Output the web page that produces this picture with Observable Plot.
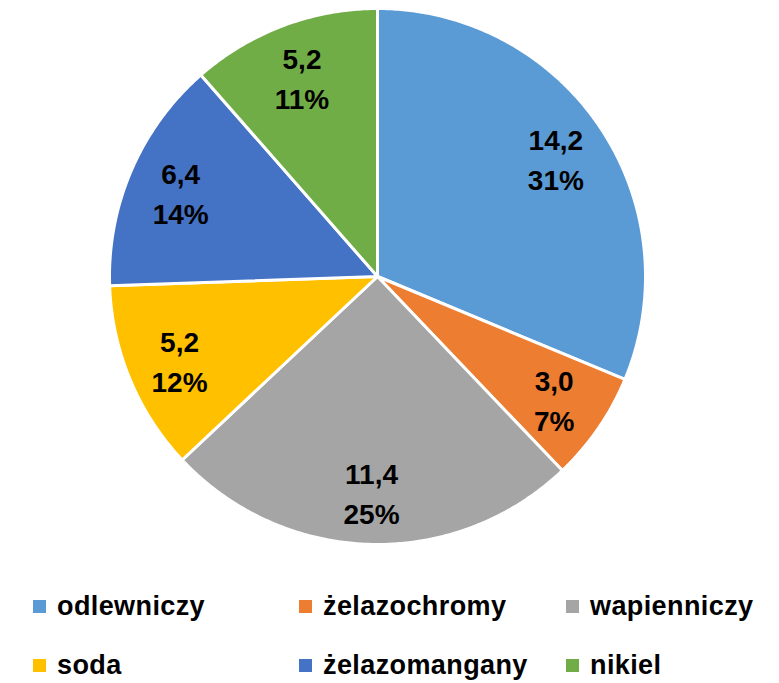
<!DOCTYPE html>
<html>
<head>
<meta charset="utf-8">
<script src="https://cdn.jsdelivr.net/npm/d3@7"></script>
<script src="https://cdn.jsdelivr.net/npm/@observablehq/plot@0.6"></script>
<style>
  html, body { margin: 0; padding: 0; background: #fff; }
  #wrap { position: relative; width: 779px; height: 683px; overflow: hidden; font-family: "Liberation Sans", Arial, sans-serif; }
  #chart { position: absolute; left: 0; top: 0; }
  .leg { position: absolute; display: flex; align-items: center; font-weight: bold; font-size: 27px; letter-spacing: 0.4px; color: #000; white-space: nowrap; line-height: 1; }
  .leg .sw { width: 13px; height: 13px; margin-right: 11px; flex: none; }
</style>
</head>
<body>
<div id="wrap">
  <div id="chart"></div>
</div>
<script>
const categories = ["odlewniczy", "żelazochromy", "wapienniczy", "soda", "żelazomangany", "nikiel"];
const values = [14.2, 3.0, 11.4, 5.2, 6.4, 5.2];
const percentLabels = ["31%", "7%", "25%", "12%", "14%", "11%"];
const colors = ["#5B9BD5", "#ED7D31", "#A5A5A5", "#FFC000", "#4472C4", "#70AD47"];

const arcs = d3.pie().sort(null).value(d => d.value)(
  categories.map((c, i) => ({category: c, value: values[i], pct: percentLabels[i]}))
);

// slice outlines (in unit-radius coordinates)
const polys = [];
for (const a of arcs) {
  const cat = a.data.category;
  polys.push({category: cat, x: 0, y: 0});
  const n = Math.max(2, Math.ceil((a.endAngle - a.startAngle) / (Math.PI / 360)));
  for (let k = 0; k <= n; k++) {
    const t = a.startAngle + (a.endAngle - a.startAngle) * k / n;
    polys.push({category: cat, x: Math.sin(t), y: Math.cos(t)});
  }
  polys.push({category: cat, x: 0, y: 0});
}

const labelR = 0.8;
const labels = arcs.map(a => {
  const m = (a.startAngle + a.endAngle) / 2;
  return {
    x: labelR * Math.sin(m),
    y: labelR * Math.cos(m),
    text: a.data.value.toFixed(1).replace(".", ",") + "\n" + a.data.pct
  };
});

const cx = 377, cy = 276, R = 268;
const plot = Plot.plot({
  width: 779,
  height: 560,
  margin: 0,
  x: {domain: [-1, 1], range: [cx - R, cx + R], axis: null},
  y: {domain: [-1, 1], range: [cy + R, cy - R], axis: null},
  color: {domain: categories, range: colors},
  style: {background: "transparent", overflow: "visible"},
  marks: [
    Plot.line(polys, {x: "x", y: "y", z: "category", fill: "category", stroke: "white", strokeWidth: 3, curve: "linear", strokeLinejoin: "round"}),
    Plot.text(labels, {x: "x", y: "y", text: "text", fill: "#000", fontSize: 28, fontWeight: "bold", lineHeight: 1.43, fontFamily: "Liberation Sans, Arial, sans-serif"})
  ]
});
document.getElementById("chart").appendChild(plot);

// legend
const legCols = [33, 299, 566];
const legRows = [606, 665];
const wrap = document.getElementById("wrap");
categories.forEach((c, i) => {
  const el = document.createElement("div");
  el.className = "leg";
  el.style.left = legCols[i % 3] + "px";
  el.style.top = (legRows[Math.floor(i / 3)] - 15) + "px";
  el.style.height = "30px";
  const sw = document.createElement("span");
  sw.className = "sw";
  sw.style.background = colors[i];
  const tx = document.createElement("span");
  tx.textContent = c;
  el.appendChild(sw);
  el.appendChild(tx);
  wrap.appendChild(el);
});
</script>
</body>
</html>
